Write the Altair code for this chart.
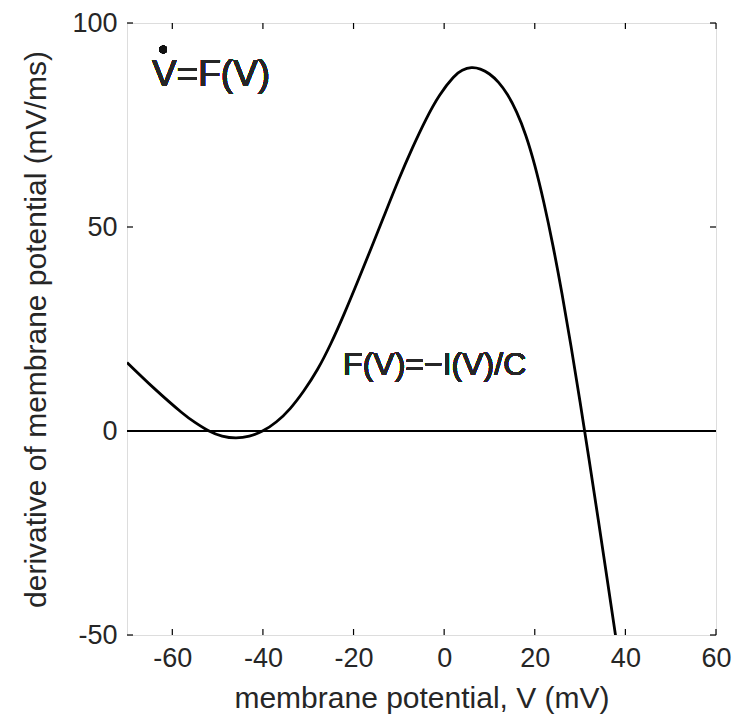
import altair as alt
import pandas as pd

# Curve F(V)
V = [-70, -64, -58, -55, -52, -49, -46, -43, -40, -37, -34, -31, -28, -25, -22, -19, -16,
     -13, -10, -7, -4, -1, 2, 4, 6, 8, 10, 12, 14, 16, 18, 20, 22, 24, 26, 28, 30, 32, 34,
     36, 38]
F = [16.8, 10.45, 4.6, 2.1, 0.05, -1.25, -1.7, -1.27, 0.04, 2.26, 5.5, 9.8, 15.0, 21.45,
     28.9, 36.9, 45.1, 53.45, 61.7, 69.4, 76.4, 82.3, 86.65, 88.4, 89.05, 88.7, 87.5, 85.45,
     82.4, 78.15, 72.5, 65.1, 56.0, 45.5, 33.7, 20.8, 7.1, -7.1, -21.65, -36.45, -51.4]

x_ticks = [-60, -40, -20, 0, 20, 40, 60]
y_ticks = [-50, 0, 50, 100]

W, H = 589, 612
FONT = "Liberation Sans"
TXT = "#262626"
HYPHEN = "replace(datum.label, '\u2212', '-')"

curve = pd.DataFrame({"V": V, "F": F})
xt = pd.DataFrame({"t": x_ticks})
yt = pd.DataFrame({"t": y_ticks})

xscale = alt.Scale(domain=[-70, 60], nice=False, zero=False)
yscale = alt.Scale(domain=[-50, 100], nice=False, zero=False)

xaxis = alt.Axis(values=x_ticks, ticks=False, domain=False, grid=False, labelFont=FONT,
                 labelFontSize=27, labelColor=TXT, labelPadding=10, labelExpr=HYPHEN,
                 title="membrane potential, V (mV)",
                 titleFont=FONT, titleFontSize=30, titleFontWeight="normal", titleColor=TXT,
                 titlePadding=12, labelFlush=False)
yaxis = alt.Axis(values=y_ticks, ticks=False, domain=False, grid=False, labelFont=FONT,
                 labelFontSize=27, labelColor=TXT, labelPadding=10, labelExpr=HYPHEN,
                 title="derivative of membrane potential (mV/ms)", titleFont=FONT,
                 titleFontSize=30, titleFontWeight="normal", titleColor=TXT, titlePadding=20,
                 labelFlush=False)

line = alt.Chart(curve).mark_line(color="black", strokeWidth=2.8, clip=True,
                                  interpolate="natural").encode(
    x=alt.X("V:Q", scale=xscale, axis=xaxis),
    y=alt.Y("F:Q", scale=yscale, axis=yaxis),
)

zero = alt.Chart(curve).mark_rule(color="black", strokeWidth=1.2).encode(
    y=alt.datum(0, scale=yscale),
)

xtick_b = alt.Chart(xt).mark_rule(color="black", strokeWidth=1.2).encode(
    x=alt.X("t:Q", scale=xscale), y=alt.value(H), y2=alt.value(H - 6))
xtick_t = alt.Chart(xt).mark_rule(color="black", strokeWidth=1.2).encode(
    x=alt.X("t:Q", scale=xscale), y=alt.value(0), y2=alt.value(6))
ytick_l = alt.Chart(yt).mark_rule(color="black", strokeWidth=1.2).encode(
    y=alt.Y("t:Q", scale=yscale), x=alt.value(0), x2=alt.value(6))
ytick_r = alt.Chart(yt).mark_rule(color="black", strokeWidth=1.2).encode(
    y=alt.Y("t:Q", scale=yscale), x=alt.value(W), x2=alt.value(W - 6))

t1 = alt.Chart(curve).mark_text(text="V=F(V)", font=FONT, fontSize=37, color=TXT,
                                align="left", baseline="alphabetic").encode(
    x=alt.datum(-64.5), y=alt.datum(84.5))
dot = alt.Chart(curve).mark_circle(size=55, color="#111111", opacity=1).encode(
    x=alt.datum(-62.0), y=alt.datum(93.5))
t2 = alt.Chart(curve).mark_text(text="F(V)=\u2212I(V)/C", font=FONT, fontSize=32, color=TXT,
                                align="left", baseline="alphabetic").encode(
    x=alt.datum(-22.3), y=alt.datum(13.8))

chart = alt.layer(line, zero, xtick_b, xtick_t, ytick_l, ytick_r, t1, dot, t2).properties(
    width=W, height=H,
    autosize=alt.AutoSizeParams(type="none"),
    padding={"left": 119, "top": 15, "right": 21, "bottom": 81},
).configure_view(stroke="black", strokeWidth=1.5).configure(background="white")

chart.save("out.html", embed_options={"renderer": "svg", "actions": False})
